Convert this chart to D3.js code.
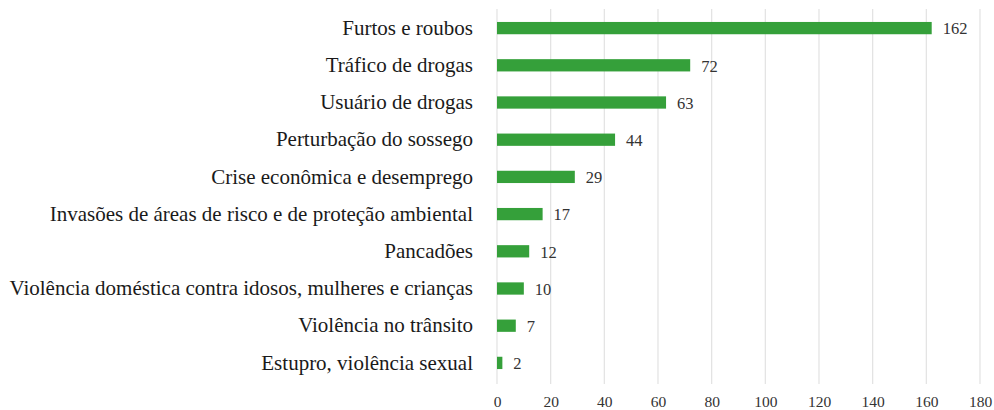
<!DOCTYPE html>
<html>
<head>
<meta charset="utf-8">
<script src="https://d3js.org/d3.v7.min.js"></script>
<style>
body { margin: 0; background: #fff; }
svg text { font-family: "Liberation Serif", serif; }
</style>
</head>
<body>
<svg id="chart" width="994" height="410"></svg>
<script>
// data
const categories = [
  "Furtos e roubos",
  "Tráfico de drogas",
  "Usuário de drogas",
  "Perturbação do sossego",
  "Crise econômica e desemprego",
  "Invasões de áreas de risco e de proteção ambiental",
  "Pancadões",
  "Violência doméstica contra idosos, mulheres e crianças",
  "Violência no trânsito",
  "Estupro, violência sexual"
];
const values = [162, 72, 63, 44, 29, 17, 12, 10, 7, 2];
const ticks = [0, 20, 40, 60, 80, 100, 120, 140, 160, 180];

const svg = d3.select("#chart");

const x = d3.scaleLinear().domain([0, 180]).range([497, 980]);
const y = d3.scaleBand().domain(categories).range([9.5, 381.5]).paddingInner(0.67).paddingOuter(0.335);

// vertical gridlines
svg.append("g")
  .selectAll("line")
  .data(ticks)
  .join("line")
    .attr("x1", d => x(d)).attr("x2", d => x(d))
    .attr("y1", 9).attr("y2", 384)
    .attr("stroke", "#e2e2e2")
    .attr("stroke-width", 1.2);

// x axis labels
const xAxis = svg.append("g")
  .attr("transform", "translate(0,384)")
  .call(d3.axisBottom(x).tickValues(ticks).tickSize(0).tickPadding(12));
xAxis.select(".domain").remove();
xAxis.selectAll("text")
  .attr("font-size", 15.5)
  .attr("fill", "#333");

// category labels
const yAxis = svg.append("g")
  .attr("transform", "translate(473,0)")
  .call(d3.axisLeft(y).tickSize(0).tickPadding(0));
yAxis.select(".domain").remove();
yAxis.selectAll("text")
  .attr("font-size", 21)
  .attr("fill", "#1a1a1a");

// bars
svg.append("g")
  .selectAll("rect")
  .data(values)
  .join("rect")
    .attr("x", x(0))
    .attr("y", (d, i) => y(categories[i]))
    .attr("width", d => x(d) - x(0))
    .attr("height", y.bandwidth())
    .attr("fill", "#35a03a");

// value labels
svg.append("g")
  .selectAll("text")
  .data(values)
  .join("text")
    .attr("x", d => x(d) + 11)
    .attr("y", (d, i) => y(categories[i]) + y.bandwidth() / 2)
    .attr("dy", "0.38em")
    .attr("font-size", 16.5)
    .attr("fill", "#333")
    .text(d => d);
</script>
</body>
</html>
